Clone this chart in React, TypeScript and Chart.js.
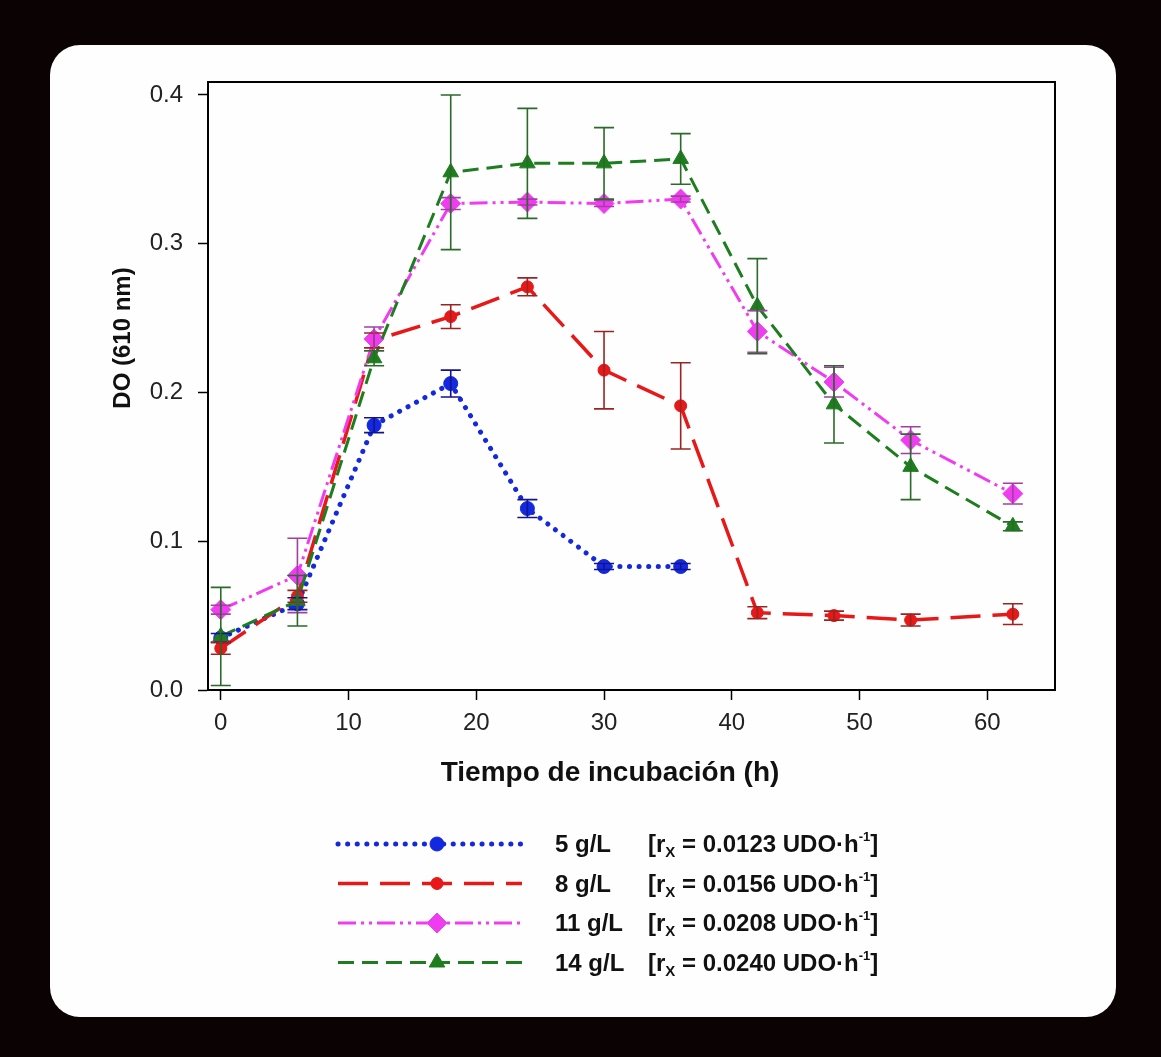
import React, { useEffect, useRef } from 'react';
import { Chart, registerables } from 'chart.js';
import { drawPoint } from 'chart.js/helpers';

Chart.register(...registerables);

// ---------- data ----------
const timesShort = [0, 6, 12, 18, 24, 30, 36];
const timesLong = [0, 6, 12, 18, 24, 30, 36, 42, 48, 54, 62];

const do5 = [0.035, 0.058, 0.178, 0.206, 0.122, 0.083, 0.083];
const err5 = [0.003, 0.004, 0.005, 0.009, 0.006, 0.002, 0.002];

const do8 = [0.028, 0.063, 0.235, 0.251, 0.271, 0.215, 0.191, 0.052, 0.050, 0.047, 0.051];
const err8 = [0.004, 0.004, 0.005, 0.008, 0.006, 0.026, 0.029, 0.004, 0.003, 0.004, 0.007];

const do11 = [0.054, 0.077, 0.236, 0.327, 0.328, 0.327, 0.330, 0.241, 0.207, 0.168, 0.132];
const err11 = [0.003, 0.025, 0.008, 0.004, 0.002, 0.002, 0.002, 0.014, 0.010, 0.009, 0.007];

const do14 = [0.036, 0.060, 0.223, 0.348, 0.354, 0.354, 0.357, 0.258, 0.192, 0.150, 0.110];
const err14 = [0.033, 0.017, 0.005, 0.052, 0.037, 0.024, 0.017, 0.032, 0.026, 0.022, 0.003];

const seriesLabels = ['5 g/L', '8 g/L', '11 g/L', '14 g/L'];
const rateValues = ['0.0123', '0.0156', '0.0208', '0.0240'];

const xTickValues = [0, 10, 20, 30, 40, 50, 60];
const yTickValues = [0.0, 0.1, 0.2, 0.3, 0.4];
const xTitle = 'Tiempo de incubación (h)';
const yTitle = 'DO (610 nm)';

// ---------- styles ----------
const seriesStyles = [
  { color: '#1428e0', err: '#14148a', point: 'circle', radius: 7, dash: [0.1, 9.5], width: 5, cap: 'round', order: 3 },
  { color: '#e81818', err: '#9a2424', point: 'circle', radius: 6, dash: [30, 12], width: 3.5, cap: 'butt', order: 2 },
  { color: '#f03cf0', err: '#a040a0', point: 'rectRot', radius: 10, dash: [18, 5, 3, 5, 3, 5], width: 3, cap: 'butt', order: 1 },
  { color: '#1e7d1e', err: '#2a6a2a', point: 'triangle', radius: 9, dash: [16, 8], width: 3, cap: 'butt', order: 0 },
];

const seriesData = [
  { x: timesShort, y: do5, e: err5 },
  { x: timesLong, y: do8, e: err8 },
  { x: timesLong, y: do11, e: err11 },
  { x: timesLong, y: do14, e: err14 },
];

const FONT = "'Liberation Sans', Arial, sans-serif";
const NARROW = "'Liberation Sans Narrow', 'Arial Narrow', 'Liberation Sans', sans-serif";

export default function App() {
  const ref = useRef<HTMLCanvasElement | null>(null);

  useEffect(() => {
    const canvas = ref.current;
    if (!canvas) return;

    const errorBars = {
      id: 'errorBars',
      afterDatasetsDraw(chart: any) {
        const ctx = chart.ctx;
        const xs = chart.scales.x;
        const ys = chart.scales.y;
        ctx.save();
        seriesData.forEach((s, si) => {
          ctx.strokeStyle = seriesStyles[si].err;
          ctx.lineWidth = 1.6;
          ctx.setLineDash([]);
          s.x.forEach((t, i) => {
            const px = xs.getPixelForValue(t);
            const top = ys.getPixelForValue(s.y[i] + s.e[i]);
            const bot = ys.getPixelForValue(s.y[i] - s.e[i]);
            ctx.beginPath();
            ctx.moveTo(px, top);
            ctx.lineTo(px, bot);
            ctx.moveTo(px - 10, top);
            ctx.lineTo(px + 10, top);
            ctx.moveTo(px - 10, bot);
            ctx.lineTo(px + 10, bot);
            ctx.stroke();
          });
        });
        ctx.restore();
      },
    };

    const frameAndText = {
      id: 'frameAndText',
      afterDraw(chart: any) {
        const ctx = chart.ctx;
        const a = chart.chartArea;
        ctx.save();
        ctx.setLineDash([]);
        ctx.strokeStyle = '#000';
        ctx.lineWidth = 2;
        ctx.beginPath();
        ctx.moveTo(a.left, a.top);
        ctx.lineTo(a.right, a.top);
        ctx.lineTo(a.right, a.bottom);
        ctx.stroke();

        // axis titles
        ctx.fillStyle = '#111';
        ctx.font = `bold 28px ${FONT}`;
        ctx.textAlign = 'center';
        ctx.textBaseline = 'middle';
        ctx.fillText(xTitle, 610, 773);

        ctx.save();
        ctx.translate(123, 338);
        ctx.rotate(-Math.PI / 2);
        ctx.font = `bold 24px ${FONT}`;
        ctx.fillText(yTitle, 0, 0);
        ctx.restore();

        // legend
        const x1 = 338, x2 = 522, xm = 437;
        seriesLabels.forEach((lab, i) => {
          const st = seriesStyles[i];
          const y = 844 + i * 39.5;
          ctx.save();
          ctx.strokeStyle = st.color;
          ctx.lineWidth = st.width;
          ctx.lineCap = st.cap as CanvasLineCap;
          ctx.setLineDash(st.dash);
          ctx.beginPath();
          ctx.moveTo(x1, y);
          ctx.lineTo(x2, y);
          ctx.stroke();
          ctx.setLineDash([]);
          ctx.fillStyle = st.color;
          ctx.strokeStyle = st.color;
          ctx.lineWidth = 1;
          drawPoint(ctx, { pointStyle: st.point, radius: st.radius, rotation: 0, borderWidth: 1 } as any, xm, y);
          ctx.restore();

          ctx.fillStyle = '#111';
          ctx.textAlign = 'left';
          ctx.textBaseline = 'alphabetic';
          const base = y + 8;
          ctx.font = `bold 24px ${FONT}`;
          ctx.fillText(lab, 555, base);
          let cx = 648;
          const put = (txt: string, size: number, dy: number) => {
            ctx.font = `bold ${size}px ${FONT}`;
            ctx.fillText(txt, cx, base + dy);
            cx += ctx.measureText(txt).width;
          };
          put('[r', 24, 0);
          put('X', 15, 5);
          put(' = ' + rateValues[i] + ' UDO·h', 24, 0);
          put('-1', 13, -11);
          put(']', 24, 0);
        });
        ctx.restore();
      },
    };

    const datasets = seriesData.map((s, i) => {
      const st = seriesStyles[i];
      return {
        label: seriesLabels[i],
        data: s.x.map((t, k) => ({ x: t, y: s.y[k] })),
        borderColor: st.color,
        backgroundColor: st.color,
        borderWidth: st.width,
        borderDash: st.dash,
        borderCapStyle: st.cap,
        pointStyle: st.point,
        pointRadius: st.radius,
        pointBackgroundColor: st.color,
        pointBorderColor: st.color,
        pointBorderWidth: 1,
        tension: 0,
        fill: false,
        order: st.order,
      };
    });

    const chart = new Chart(canvas, {
      type: 'line',
      data: { datasets } as any,
      options: {
        responsive: false,
        animation: false,
        devicePixelRatio: 1,
        layout: { padding: { left: 100, right: 106, top: 82, bottom: 327 } },
        plugins: { legend: { display: false }, tooltip: { enabled: false } },
        scales: {
          x: {
            type: 'linear',
            min: -1,
            max: 65.3,
            afterFit: (s: any) => { s.height = 40; },
            afterBuildTicks: (s: any) => { s.ticks = xTickValues.map((v) => ({ value: v })); },
            grid: { drawOnChartArea: false, drawTicks: true, tickLength: 10, tickWidth: 1.5, tickColor: '#000' },
            border: { display: true, color: '#000', width: 2 },
            ticks: { color: '#222', font: { family: NARROW, size: 24 }, padding: 9, maxRotation: 0, callback: (v: any) => String(v) },
          },
          y: {
            type: 'linear',
            min: 0,
            max: 0.4087,
            afterFit: (s: any) => { s.width = 108; },
            afterBuildTicks: (s: any) => { s.ticks = yTickValues.map((v) => ({ value: v })); },
            grid: { drawOnChartArea: false, drawTicks: true, tickLength: 10, tickWidth: 1.5, tickColor: '#000' },
            border: { display: true, color: '#000', width: 2 },
            ticks: { color: '#222', font: { family: NARROW, size: 24 }, padding: 15, callback: (v: any) => Number(v).toFixed(1) },
          },
        },
      } as any,
      plugins: [errorBars, frameAndText],
    });

    return () => chart.destroy();
  }, []);

  return (
    <div style={{ position: 'absolute', left: 0, top: 0, width: 1161, height: 1057, background: '#0b0303', overflow: 'hidden' }}>
      <div style={{ position: 'absolute', left: 50, top: 45, width: 1066, height: 972, borderRadius: 30, background: '#fefefe' }} />
      <canvas ref={ref} width={1161} height={1057} style={{ position: 'absolute', left: 0, top: 0, display: 'block' }} />
    </div>
  );
}
